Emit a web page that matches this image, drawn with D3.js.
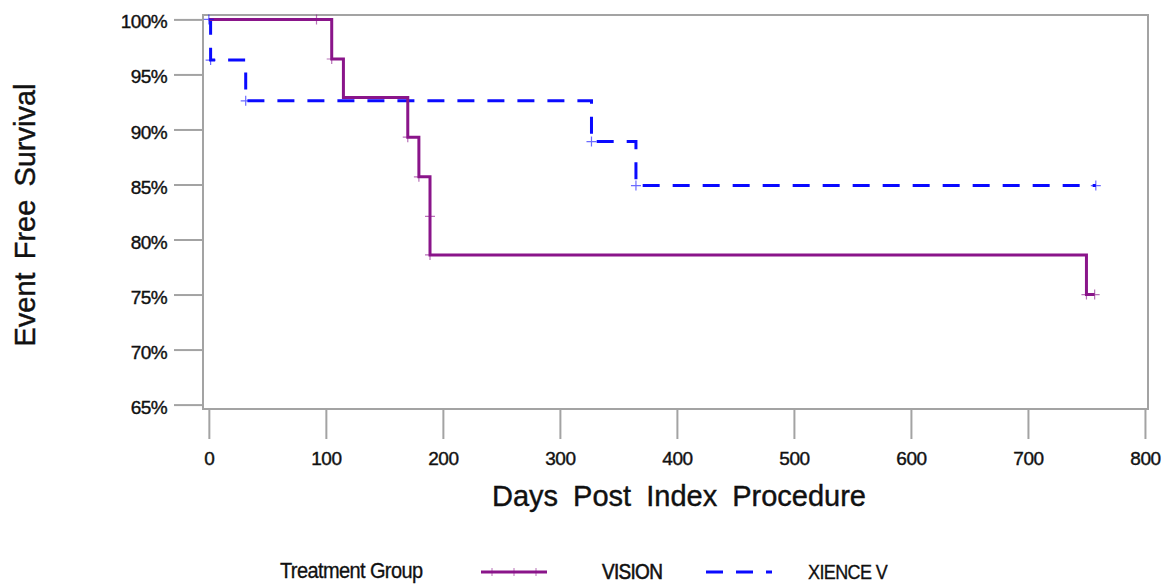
<!DOCTYPE html>
<html>
<head>
<meta charset="utf-8">
<script src="https://cdn.jsdelivr.net/npm/d3@7"></script>
<style>
  body { margin: 0; background: #fff; }
  text { font-family: "Liberation Sans", Arial, sans-serif; fill: #111; }
</style>
</head>
<body>
<div id="chart"></div>
<script>
// Kaplan-Meier steps: day of event and survival (%) after it
var visionDays = [0, 105, 115, 170, 179.5, 189, 189, 750];
var visionSurv = [100, 96.4, 92.9, 89.3, 85.7, 82.1, 78.6, 75.0];
var visionEnd = 757;
var visionMarkDays = [92, 105, 170, 179.5, 189, 189, 750, 757];
var visionMarkSurv = [100, 96.4, 89.3, 85.7, 82.1, 78.6, 75.0, 75.0];

var xienceDays = [0, 1.5, 31.5, 327, 365];
var xienceSurv = [100, 96.3, 92.6, 88.9, 84.9];
var xienceEnd = 758;
var xienceMarkDays = [0, 1.5, 31.5, 327, 365, 758];
var xienceMarkSurv = [100, 96.3, 92.6, 88.9, 84.9, 84.9];

var xTicks = [0, 100, 200, 300, 400, 500, 600, 700, 800];
var yTicks = [65, 70, 75, 80, 85, 90, 95, 100];

var width = 1162, height = 584;
var frame = {left: 203, right: 1148, top: 15, bottom: 409};

var svg = d3.select("#chart").append("svg")
    .attr("width", width)
    .attr("height", height);

var x = d3.scaleLinear()
    .domain([-5, 802.6])
    .range([frame.left, frame.right]);

var y = d3.scaleLinear()
    .domain([64.6, 100.4])
    .range([frame.bottom, frame.top]);

var gray = "#a3a3a3";

// frame
svg.append("rect")
    .attr("x", frame.left)
    .attr("y", frame.top)
    .attr("width", frame.right - frame.left)
    .attr("height", frame.bottom - frame.top)
    .attr("fill", "none")
    .attr("stroke", gray)
    .attr("stroke-width", 2);

// x axis hanging below the frame
var xAxis = svg.append("g")
    .attr("transform", "translate(0," + (frame.bottom + 1) + ")")
    .call(d3.axisBottom(x).tickValues(xTicks).tickSize(29).tickPadding(13).tickSizeOuter(0));
xAxis.select(".domain").remove();
xAxis.selectAll(".tick line").attr("stroke", gray).attr("stroke-width", 2);
xAxis.selectAll(".tick text")
    .style("font-size", "19px")
    .style("font-family", "Liberation Sans, Arial, sans-serif")
    .attr("fill", "#111")
    .attr("stroke", "#111")
    .attr("stroke-width", 0.4)
    .attr("letter-spacing", "-0.5");

var yAxis = svg.append("g")
    .attr("transform", "translate(" + frame.left + ",0)")
    .call(d3.axisLeft(y).tickValues(yTicks).tickSize(29).tickPadding(7)
        .tickFormat(function(d) { return d + "%"; }));
yAxis.select(".domain").remove();
yAxis.selectAll(".tick line").attr("stroke", gray).attr("stroke-width", 2);
yAxis.selectAll(".tick text")
    .style("font-size", "19px")
    .style("font-family", "Liberation Sans, Arial, sans-serif")
    .attr("fill", "#111")
    .attr("stroke", "#111")
    .attr("stroke-width", 0.4)
    .attr("letter-spacing", "-0.6")
    .attr("dy", "0.45em");

// axis titles
svg.append("text")
    .attr("x", 679)
    .attr("y", 506)
    .attr("text-anchor", "middle")
    .style("font-size", "29px")
    .attr("stroke", "#111")
    .attr("stroke-width", 0.4)
    .attr("word-spacing", 7)
    .text("Days Post Index Procedure");

svg.append("text")
    .attr("transform", "translate(35,215) rotate(-90)")
    .attr("text-anchor", "middle")
    .style("font-size", "29px")
    .attr("stroke", "#111")
    .attr("stroke-width", 0.4)
    .attr("word-spacing", 5)
    .text("Event Free Survival");

function stepPoints(days, surv, end) {
    var pts = days.map(function(d, i) { return [d, surv[i]]; });
    pts.push([end, surv[surv.length - 1]]);
    return pts;
}

var line = d3.line()
    .x(function(d) { return x(d[0]); })
    .y(function(d) { return y(d[1]); })
    .curve(d3.curveStepAfter);

var purple = "#8a158a";
var blue = "#0a0aff";

svg.append("path")
    .attr("d", line(stepPoints(xienceDays, xienceSurv, xienceEnd)))
    .attr("fill", "none")
    .attr("stroke", blue)
    .attr("stroke-width", 3)
    .attr("stroke-dasharray", "17,13");

svg.append("path")
    .attr("d", line(stepPoints(visionDays, visionSurv, visionEnd)))
    .attr("fill", "none")
    .attr("stroke", purple)
    .attr("stroke-width", 3);

function marks(days, surv, color) {
    var g = svg.append("g");
    days.forEach(function(d, i) {
        var cx = x(d), cy = y(surv[i]);
        g.append("path")
            .attr("d", "M" + (cx - 5) + "," + cy + "H" + (cx + 5) + "M" + cx + "," + (cy - 5) + "V" + (cy + 5))
            .attr("stroke", color)
            .attr("stroke-width", 1.2)
            .attr("opacity", 0.6);
    });
}
marks(visionMarkDays, visionMarkSurv, purple);
marks(xienceMarkDays, xienceMarkSurv, blue);

// legend
var ly = 572;
svg.append("text")
    .attr("transform", "translate(280,578) scale(1,1.1)")
    .style("font-size", "20px")
    .attr("stroke", "#111")
    .attr("stroke-width", 0.3)
    .attr("letter-spacing", "-0.6")
    .text("Treatment Group");

svg.append("line")
    .attr("x1", 481).attr("x2", 547).attr("y1", ly).attr("y2", ly)
    .attr("stroke", purple).attr("stroke-width", 3);
[492, 514, 536].forEach(function(px) {
    svg.append("line")
        .attr("x1", px).attr("x2", px).attr("y1", ly - 4).attr("y2", ly + 4)
        .attr("stroke", purple).attr("stroke-width", 1).attr("opacity", 0.6);
});
svg.append("text")
    .attr("transform", "translate(602,579) scale(1,1.15)")
    .style("font-size", "19px")
    .attr("stroke", "#111")
    .attr("stroke-width", 0.5)
    .attr("letter-spacing", "-0.7")
    .text("VISION");

svg.append("line")
    .attr("x1", 706).attr("x2", 772).attr("y1", ly).attr("y2", ly)
    .attr("stroke", blue).attr("stroke-width", 3)
    .attr("stroke-dasharray", "17,13");
svg.append("text")
    .attr("transform", "translate(808,579) scale(1,1.15)")
    .style("font-size", "18px")
    .attr("stroke", "#111")
    .attr("stroke-width", 0.3)
    .attr("letter-spacing", "-0.6")
    .text("XIENCE V");
</script>
</body>
</html>
